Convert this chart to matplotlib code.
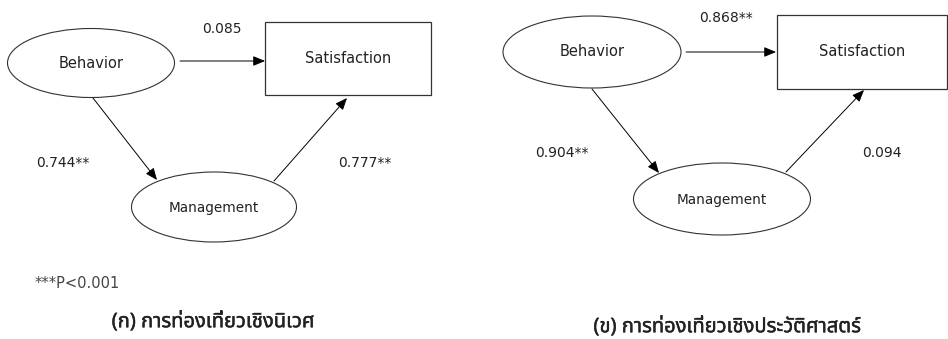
import matplotlib
matplotlib.use("Agg")
import matplotlib.pyplot as plt
import matplotlib.patheffects as pe
from matplotlib import font_manager
from matplotlib.ft2font import FT2Font
from matplotlib.patches import Ellipse, Rectangle

# path coefficients for the two models
panels = ["eco", "hist"]
coef_b_s = ["0.085", "0.868**"]
coef_b_m = ["0.744**", "0.904**"]
coef_m_s = ["0.777**", "0.094"]
captions = ["(ก) การท่องเที่ยวเชิงนิเวศ", "(ข) การท่องเที่ยวเชิงประวัติศาสตร์"]
note = "***P<0.001"
node_names = ["Behavior", "Satisfaction", "Management"]


# find a font that actually has Thai glyphs
def thai_font():
    pref = ["Noto Sans Thai", "Noto Sans Thai UI", "Leelawadee UI", "Tahoma", "Loma", "Garuda",
            "Norasi", "Sarabun", "Kinnari", "Waree", "Umpush", "Laksaman"]
    found = {}
    for f in font_manager.fontManager.ttflist:
        try:
            cmap = FT2Font(f.fname).get_charmap()
        except Exception:
            continue
        if 0x0E01 in cmap and 0x0E40 in cmap:
            found.setdefault(f.name, f.fname)
    for p in pref:
        if p in found:
            return p
    if found:
        return sorted(found)[0]
    return None


tf = thai_font()
latin = "DejaVu Sans"
cap_family = [tf, latin] if tf else [latin]

# layout, in pixel coordinates of the 948x339 picture
layout = [
    dict(beh=(91, 63, 167, 69), sat=(265, 22, 166, 73), man=(214, 207, 165, 70),
         a1=((180, 61), (265, 61)), a2=((93, 98), (157, 180)), a3=((274, 181), (347, 98)),
         t1=(222, 29), t2=(63, 163), t3=(365, 163), cap=(213, 322)),
    dict(beh=(592, 52, 178, 72), sat=(777, 15, 170, 74), man=(722, 199, 177, 72),
         a1=((686, 52), (776, 52)), a2=((592, 89), (659, 173)), a3=((786, 172), (864, 90)),
         t1=(726, 18), t2=(562, 153), t3=(882, 153), cap=(727, 327)),
]

fig = plt.figure(figsize=(9.48, 3.39), dpi=100)
ax = fig.add_axes([0, 0, 1, 1])
ax.set_xlim(0, 948)
ax.set_ylim(339, 0)
ax.axis("off")

edge = "#333333"
txt = "#222222"
for i, L in enumerate(layout):
    bx, by, bw, bh = L["beh"]
    ax.add_patch(Ellipse((bx, by), bw, bh, fill=False, ec=edge, lw=0.8))
    ax.text(bx, by, node_names[0], ha="center", va="center", fontsize=10.5, family=latin, color=txt)

    sx, sy, sw, sh = L["sat"]
    ax.add_patch(Rectangle((sx, sy), sw, sh, fill=False, ec=edge, lw=0.9))
    ax.text(sx + sw / 2, sy + sh / 2, node_names[1], ha="center", va="center", fontsize=10.5,
            family=latin, color=txt)

    mx, my, mw, mh = L["man"]
    ax.add_patch(Ellipse((mx, my), mw, mh, fill=False, ec=edge, lw=0.8))
    ax.text(mx, my + 1, node_names[2], ha="center", va="center", fontsize=9.8, family=latin, color=txt)

    for key in ["a1", "a2", "a3"]:
        p0, p1 = L[key]
        ax.annotate("", xy=p1, xytext=p0,
                    arrowprops=dict(arrowstyle="-|>,head_length=0.6,head_width=0.25", color="black",
                                    lw=0.7, mutation_scale=12, shrinkA=0, shrinkB=0))

    ax.text(*L["t1"], coef_b_s[i], ha="center", va="center", fontsize=10, family=latin, color=txt)
    ax.text(*L["t2"], coef_b_m[i], ha="center", va="center", fontsize=10, family=latin, color=txt)
    ax.text(*L["t3"], coef_m_s[i], ha="center", va="center", fontsize=10, family=latin, color=txt)

    # the Thai font has no bold face, so thicken it with a thin stroke
    ax.text(*L["cap"], captions[i], ha="center", va="center", fontsize=14.5,
            family=cap_family, fontweight="bold", color=txt,
            path_effects=[pe.withStroke(linewidth=0.3, foreground=txt)])

ax.text(35, 283, note, ha="left", va="center", fontsize=10.5, family=latin, color="#444444")

fig.savefig("out.png", dpi=100)
